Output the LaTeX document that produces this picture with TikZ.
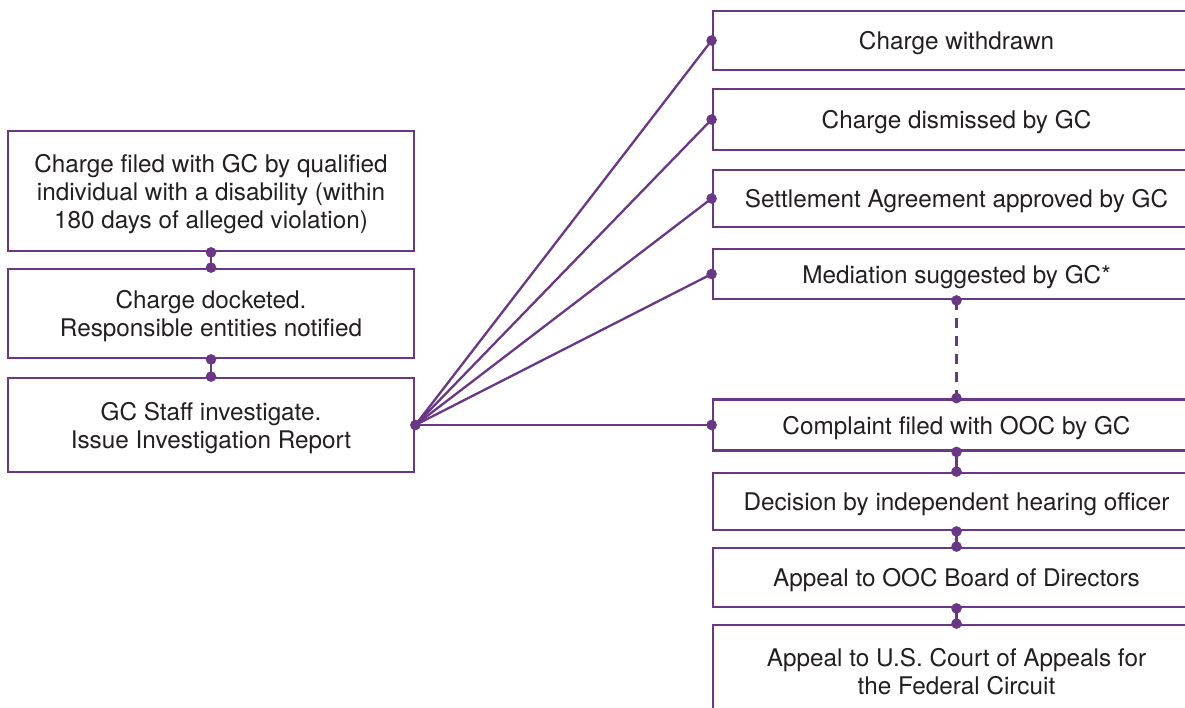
\documentclass[tikz,border=0pt]{standalone}
\usepackage{fontspec}
\setmainfont{TeX Gyre Heros}
\definecolor{ooc}{HTML}{6A3785}
\definecolor{ink}{HTML}{231F20}

\begin{document}
\begin{tikzpicture}[x=1pt,y=-1pt,
  box/.style={draw=ooc,line width=2.8pt,rectangle,inner sep=0pt,align=center,
    text=ink,text depth=0pt,font=\fontsize{24.3}{28}\selectfont},
  lbox/.style={box,minimum width=406pt},
  rbox/.style={box,minimum width=487pt},
  link/.style={draw=ooc,line width=2.3pt},
  dot/.style={fill=ooc}]
  \useasboundingbox (0,0) rectangle (1185,707);
  \clip (0,0) rectangle (1185,707);
  % left column
  \node[lbox,minimum height=120pt] (filed) at (211,191) {Charge filed with GC by qualified\\individual with a disability (within\\180 days of alleged violation)};
  \node[lbox,minimum height=89pt] (docket) at (211,313.5) {Charge docketed.\\Responsible entities notified};
  \node[lbox,minimum height=94pt] (invest) at (211,425) {GC Staff investigate.\\Issue Investigation Report};
  % right column
  \node[rbox,minimum height=59pt] (withdrawn) at (956.5,40.5) {Charge withdrawn};
  \node[rbox,minimum height=61pt] (dismissed) at (956.5,119.5) {Charge dismissed by GC};
  \node[rbox,minimum height=57pt] (settle) at (956.5,198.5) {Settlement Agreement approved by GC};
  \node[rbox,minimum height=50pt] (mediate) at (956.5,274) {Mediation suggested by GC*};
  \node[rbox,minimum height=51pt] (complaint) at (956.5,425) {Complaint filed with OOC by GC};
  \node[rbox,minimum height=57pt] (decision) at (956.5,501.5) {Decision by independent hearing officer};
  \node[rbox,minimum height=59pt] (board) at (956.5,577.5) {Appeal to OOC Board of Directors};
  \node[rbox,minimum height=92pt] (court) at (956.5,671) {Appeal to U.S. Court of Appeals for\\the Federal Circuit};
  % connectors
  \draw[link] (filed.south) -- (docket.north);
  \draw[link] (docket.south) -- (invest.north);
  \draw[link] (invest.east) -- (withdrawn.west);
  \draw[link] (invest.east) -- (dismissed.west);
  \draw[link] (invest.east) -- (settle.west);
  \draw[link] (invest.east) -- (mediate.west);
  \draw[link] (invest.east) -- (complaint.west);
  \draw[link,dash pattern=on 10pt off 8pt] (mediate.south) -- (complaint.north);
  \draw[link] (complaint.south) -- (decision.north);
  \draw[link] (decision.south) -- (board.north);
  \draw[link] (board.south) -- (court.north);
  % dots
  \foreach \p in {filed.south,docket.north,docket.south,invest.north,invest.east,
    withdrawn.west,dismissed.west,settle.west,mediate.west,complaint.west,
    mediate.south,complaint.north,complaint.south,decision.north,
    decision.south,board.north,board.south,court.north}
    \fill[dot] (\p) circle (5.3pt);
\end{tikzpicture}
\end{document}
